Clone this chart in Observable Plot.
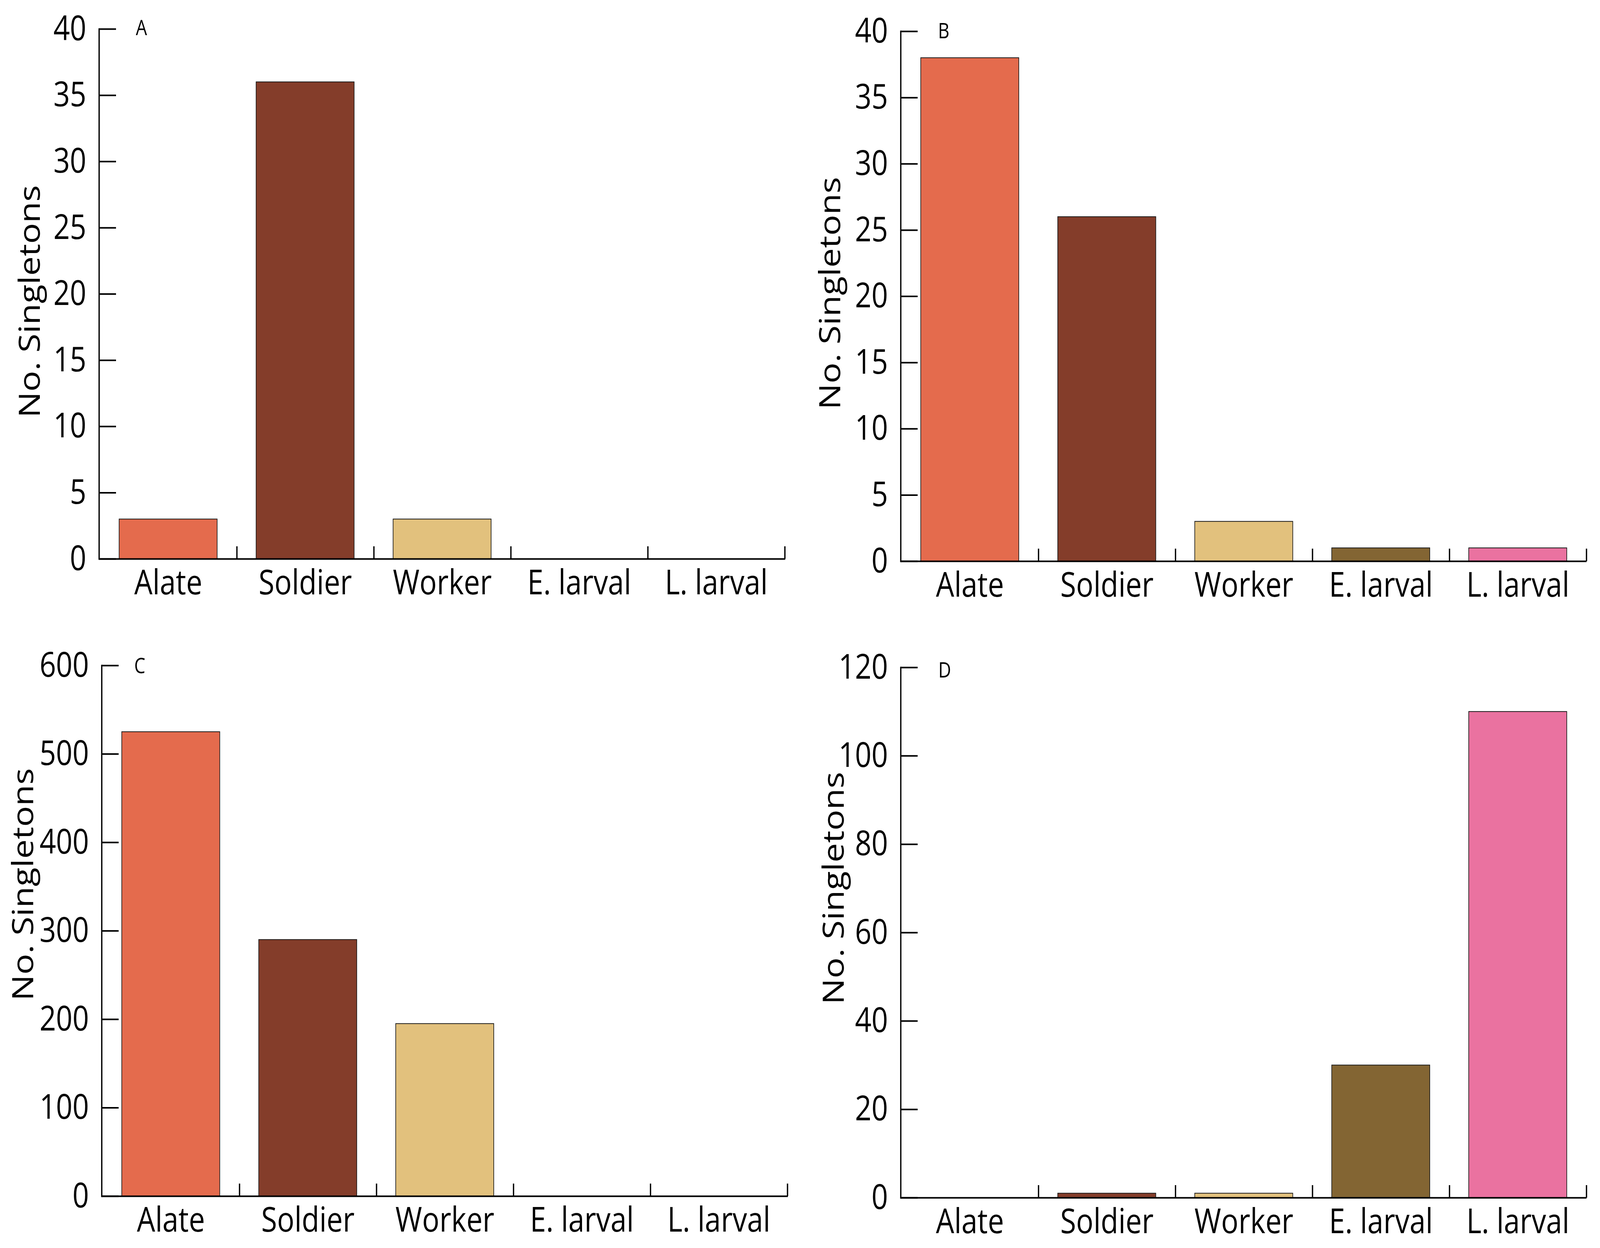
<!DOCTYPE html>
<html><head><meta charset="utf-8">
<script src="https://cdn.jsdelivr.net/npm/d3@7"></script>
<script src="https://cdn.jsdelivr.net/npm/@observablehq/plot@0.6"></script>
<style>
html,body{margin:0;padding:0;background:#fff;overflow:hidden;}
#grid{display:grid;grid-template-columns:50vw 50vw;grid-template-rows:50vh 50vh;width:100vw;height:100vh;}
#grid svg{display:block;}
</style></head><body><div id="grid"></div>
<script>
const categories = ["Alate", "Soldier", "Worker", "E. larval", "L. larval"];
const barColors = ["#E46B4D", "#843D2A", "#E2C17D", "#836533", "#EA72A0"];
const panelLetters = ["A", "B", "C", "D"];
const valuesA = [3, 36, 3, 0, 0];
const valuesB = [38, 26, 3, 1, 1];
const valuesC = [525, 290, 195, 0, 0];
const valuesD = [0, 1, 1, 30, 110];
const yTicksA = [0, 5, 10, 15, 20, 25, 30, 35, 40];
const yTicksB = [0, 5, 10, 15, 20, 25, 30, 35, 40];
const yTicksC = [0, 100, 200, 300, 400, 500, 600];
const yTicksD = [0, 20, 40, 60, 80, 100, 120];
const yAxisTitle = "No. Singletons";

const W = 2441, H = 1598;
const layouts = [
  {ml: 302, mr: 45, mt: 74, mb: 167, titleDx: -210, titleDy: 19, letterDx: 129, letterDy: -2},
  {ml: 307, mr: 41, mt: 80, mb: 161, titleDx: -213, titleDy: -8, letterDx: 131, letterDy: 0},
  {ml: 310, mr: 37, mt: 106, mb: 133, titleDx: -238, titleDy: -119, letterDx: 116, letterDy: 2},
  {ml: 307, mr: 41, mt: 111, mb: 129, titleDx: -202, titleDy: -114, letterDx: 134, letterDy: 8}
];
const seriesValues = [valuesA, valuesB, valuesC, valuesD];
const seriesTicks = [yTicksA, yTicksB, yTicksC, yTicksD];

const grid = document.getElementById("grid");
panelLetters.forEach((letter, p) => {
  const L = layouts[p];
  const ticks = seriesTicks[p];
  const table = categories.map((c, i) => ({cat: c, value: seriesValues[p][i]}));
  const bw = (W - L.ml - L.mr) / categories.length;
  const inset = bw * 0.142;
  const chart = Plot.plot({
    width: W, height: H,
    marginLeft: L.ml, marginRight: L.mr, marginTop: L.mt, marginBottom: L.mb,
    x: {type: "band", domain: categories, padding: 0},
    y: {domain: [0, ticks[ticks.length - 1]]},
    color: {domain: categories, range: barColors},
    style: {fontFamily: "'Open Sans', sans-serif", fontSize: "88px", background: "white", color: "black", overflow: "visible"},
    marks: [
      Plot.barY(table, {x: "cat", y: "value", fill: "cat", stroke: "#1a1a1a", strokeWidth: 2, insetLeft: inset, insetRight: inset}),
      Plot.ruleY([0], {strokeWidth: 4}),
      Plot.frame({anchor: "left", strokeWidth: 4}),
      Plot.axisY({ticks, tickSize: 52, dx: 52, tickFormat: () => "", label: null, strokeWidth: 4}),
      Plot.axisY({ticks, tickSize: 0, tickPadding: 39, label: null}),
      Plot.axisX({tickSize: 32, dy: -32, dx: bw / 2, tickFormat: () => "", label: null, strokeWidth: 4}),
      Plot.axisX({tickSize: 0, tickPadding: 28, label: null}),
      Plot.text([yAxisTitle], {text: d => d, frameAnchor: "left", rotate: -90, dx: L.titleDx, dy: L.titleDy, fontSize: 89, textAnchor: "middle", lineAnchor: "middle"}),
      Plot.text([letter], {text: d => d, frameAnchor: "top-left", dx: L.letterDx, dy: L.letterDy, fontSize: 54, textAnchor: "middle", lineAnchor: "middle"})
    ]
  });
  chart.setAttribute("viewBox", `0 0 ${W} ${H}`);
  chart.setAttribute("preserveAspectRatio", "none");
  chart.removeAttribute("width");
  chart.removeAttribute("height");
  chart.style.width = "100%";
  chart.style.height = "100%";
  chart.style.maxWidth = "none";
  grid.appendChild(chart);
});
</script>
</body></html>
